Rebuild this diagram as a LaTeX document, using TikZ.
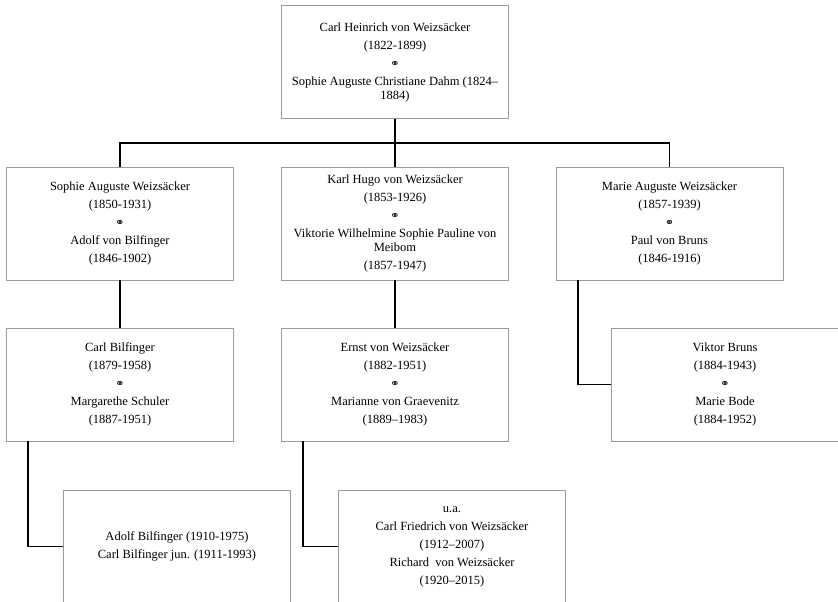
\documentclass[tikz,border=0pt]{standalone}
\usepackage{fontspec}
\setmainfont{Liberation Serif}
\newfontfamily\symbolfont{DejaVu Sans}
\usetikzlibrary{calc}
\definecolor{boxgray}{RGB}{155, 155, 155}
\newcommand{\married}{{\symbolfont\fontsize{11}{8}\selectfont ⚭}}

\begin{document}
\begin{tikzpicture}[x=1pt, y=-1pt,
  person/.style={draw=boxgray, line width=0.8pt, minimum width=227pt, minimum height=113pt,
    align=center, inner sep=4pt, font=\fontsize{12.5}{14}\selectfont},
  link/.style={line width=1.8pt, black}]
  \useasboundingbox (0, 0) rectangle (838, 602);

  % Root couple
  \node[person] (heinrich) at (395, 62) {Carl Heinrich von Weizsäcker\\[4pt](1822-1899)\\[4pt]\married\\[4pt]Sophie Auguste Christiane Dahm (1824–\\1884)};

  % Children
  \node[person] (sophie) at (120, 223.5) {Sophie Auguste Weizsäcker\\[4pt](1850-1931)\\[4pt]\married\\[4pt]Adolf von Bilfinger\\[4pt](1846-1902)};
  \node[person] (karlhugo) at (395, 223.5) {Karl Hugo von Weizsäcker\\[4pt](1853-1926)\\[4pt]\married\\[4pt]Viktorie Wilhelmine Sophie Pauline von\\Meibom\\[4pt](1857-1947)};
  \node[person] (marie) at (669.5, 223.5) {Marie Auguste Weizsäcker\\[4pt](1857-1939)\\[4pt]\married\\[4pt]Paul von Bruns\\[4pt](1846-1916)};

  % Grandchildren
  \node[person] (carl) at (120, 384.5) {Carl Bilfinger\\[4pt](1879-1958)\\[4pt]\married\\[4pt]Margarethe Schuler\\[4pt](1887-1951)};
  \node[person] (ernst) at (395, 384.5) {Ernst von Weizsäcker\\[4pt](1882-1951)\\[4pt]\married\\[4pt]Marianne von Graevenitz\\[4pt](1889–1983)};
  \node[person] (viktor) at (725, 384.5) {Viktor Bruns\\[4pt](1884-1943)\\[4pt]\married\\[4pt]Marie Bode\\[4pt](1884-1952)};

  % Great-grandchildren
  \node[person] (adolf) at (177, 546.5) {Adolf Bilfinger (1910-1975)\\[4pt]Carl Bilfinger jun. (1911-1993)};
  \node[person] (carlfriedrich) at (452, 546.5) {u.a.\\[4pt]Carl Friedrich von Weizsäcker\\[4pt](1912–2007)\\[4pt]Richard\ \ von Weizsäcker\\[4pt](1920–2015)};

  % Lines of descent
  \coordinate (bus) at (395, 143);
  \draw[link] (heinrich.south) -- (bus);
  \draw[link] (sophie.north) |- (bus) -| (marie.north);
  \draw[link] (bus) -- (karlhugo.north);
  \draw[link] (sophie.south) -- (carl.north);
  \draw[link] (karlhugo.south) -- (ernst.north);
  \draw[link] ($(marie.south west)+(22, 0)$) |- (viktor.west);
  \draw[link] ($(carl.south west)+(22, 0)$) |- (adolf.west);
  \draw[link] ($(ernst.south west)+(22, 0)$) |- (carlfriedrich.west);
\end{tikzpicture}
\end{document}
